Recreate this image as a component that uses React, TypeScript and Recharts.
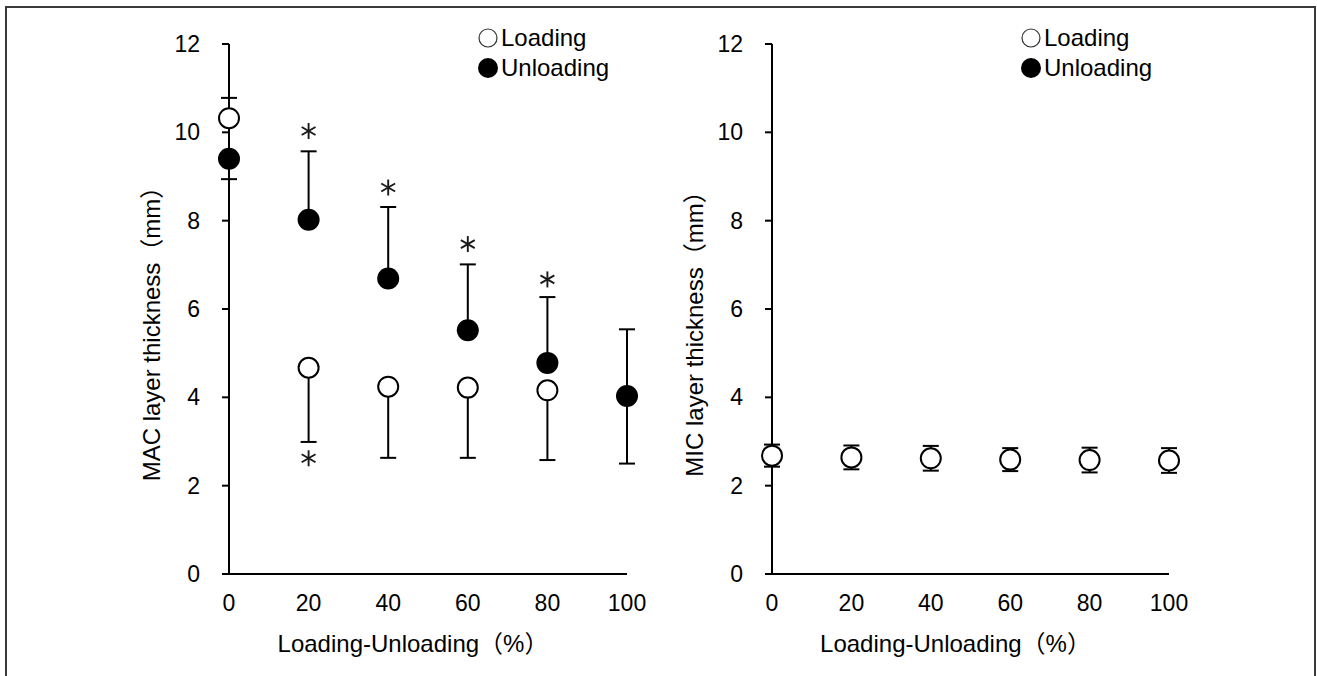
import React from "react";
import { ScatterChart, Scatter, XAxis, YAxis, ErrorBar, Legend } from "recharts";

const xTicks = [0, 20, 40, 60, 80, 100];
const yTicks = [0, 2, 4, 6, 8, 10, 12];
const legendNames = ["Loading", "Unloading"];

// MAC layer (left panel)
const macLoadingX = [0, 20, 40, 60, 80];
const macLoadingY = [10.32, 4.67, 4.24, 4.22, 4.16];
const macLoadingErrDown = [0, 1.68, 1.61, 1.59, 1.58];
const macLoadingErrUp = [0.46, 0, 0, 0, 0];

const macUnloadingX = [0, 20, 40, 60, 80, 100];
const macUnloadingY = [9.4, 8.02, 6.69, 5.52, 4.78, 4.03];
const macUnloadingErrDown = [0.46, 0, 0, 0, 0, 1.53];
const macUnloadingErrUp = [0, 1.55, 1.62, 1.49, 1.49, 1.51];

// significance marks (*)
const sigX = [20, 40, 60, 80, 20];
const sigY = [10.03, 8.75, 7.47, 6.67, 2.62];

// MIC layer (right panel)
const micLoadingX = [0, 20, 40, 60, 80, 100];
const micLoadingY = [2.68, 2.64, 2.62, 2.59, 2.58, 2.57];
const micLoadingErr = [0.25, 0.27, 0.28, 0.26, 0.28, 0.28];

const build = (xs: number[], ys: number[], down: number[], up: number[]) =>
  xs.map((x, i) => ({ x, y: ys[i], err: [down[i], up[i]] }));

const macLoading = build(macLoadingX, macLoadingY, macLoadingErrDown, macLoadingErrUp);
const macUnloading = build(macUnloadingX, macUnloadingY, macUnloadingErrDown, macUnloadingErrUp);
const micLoading = build(micLoadingX, micLoadingY, micLoadingErr, micLoadingErr);
const sigMarks = sigX.map((x, i) => ({ x, y: sigY[i] }));

const OpenDot = (p: any) => (
  <circle cx={p.cx} cy={p.cy} r={10} fill="#fff" stroke="#000" strokeWidth={2} />
);
const FilledDot = (p: any) => <circle cx={p.cx} cy={p.cy} r={11} fill="#000" />;
const Star = (p: any) => {
  const r = 8;
  const lines = [90, 30, 150].map((a) => {
    const dx = Math.cos((a * Math.PI) / 180) * r;
    const dy = Math.sin((a * Math.PI) / 180) * r;
    return (
      <line key={a} x1={p.cx - dx} y1={p.cy - dy} x2={p.cx + dx} y2={p.cy + dy} stroke="#1a1a1a" strokeWidth={1.9} />
    );
  });
  return <g>{lines}</g>;
};

const LegendBox = () => (
  <div style={{ fontSize: 24, color: "#000" }}>
    {legendNames.map((n, i) => (
      <div key={n} style={{ display: "flex", alignItems: "center", height: 30, lineHeight: "30px" }}>
        <svg width={22} height={22} style={{ marginRight: 1 }}>
          {i === 0 ? (
            <circle cx={10} cy={11} r={9} fill="#fff" stroke="#333" strokeWidth={1.2} />
          ) : (
            <circle cx={10} cy={11} r={10} fill="#000" />
          )}
        </svg>
        <span>{n}</span>
      </div>
    ))}
  </div>
);

type PanelProps = {
  left: number;
  width: number;
  marginLeft: number;
  marginRight: number;
  yTitle: string;
  legendLeft: number;
  children: React.ReactNode;
};

const Panel = ({ left, width, marginLeft, marginRight, yTitle, legendLeft, children }: PanelProps) => (
  <div style={{ position: "absolute", left, top: 0 }}>
    <ScatterChart
      width={width}
      height={676}
      margin={{ top: 44, right: marginRight, bottom: 42, left: marginLeft }}
    >
      <XAxis
        type="number"
        dataKey="x"
        domain={[0, 100]}
        ticks={xTicks}
        tickLine={false}
        tickSize={0}
        tickMargin={21}
        height={60}
        axisLine={{ stroke: "#000", strokeWidth: 2 }}
        tick={{ fill: "#000", fontSize: 23 }}
        label={{
          value: "Loading-Unloading（%）",
          content: (p: any) => {
            const vb = p.viewBox || { x: 0, y: 0, width: 0, height: 0 };
            return (
              <text x={vb.x + vb.width / 2 - 15} y={vb.y + 78} textAnchor="middle" fontSize={24} fill="#000">
                Loading-Unloading（%）
              </text>
            );
          },
        }}
      />
      <YAxis
        type="number"
        dataKey="y"
        domain={[0, 12]}
        ticks={yTicks}
        width={80}
        tickSize={7}
        tickMargin={22}
        axisLine={{ stroke: "#000", strokeWidth: 2 }}
        tickLine={{ stroke: "#000", strokeWidth: 2 }}
        tick={{ fill: "#000", fontSize: 23 }}
        label={{
          value: yTitle,
          content: (p: any) => {
            const vb = p.viewBox || { x: 0, y: 0, width: 0, height: 0 };
            const cx = vb.x + 2;
            const cy = vb.y + vb.height / 2 + 19;
            return (
              <text
                x={cx}
                y={cy}
                transform={`rotate(-90 ${cx} ${cy})`}
                textAnchor="middle"
                dominantBaseline="central"
                fontSize={24}
                fill="#000"
              >
                {yTitle}
              </text>
            );
          },
        }}
      />
      <Legend
        layout="vertical"
        align="center"
        verticalAlign="middle"
        content={() => <LegendBox />}
        wrapperStyle={{ left: legendLeft, top: 23, width: 170 }}
      />
      {children}
    </ScatterChart>
  </div>
);

export default function App() {
  return (
    <div
      style={{
        position: "absolute",
        left: 0,
        top: 0,
        width: 1317,
        height: 676,
        background: "#fff",
        overflow: "hidden",
        fontFamily: "'Liberation Sans', Arial, 'Noto Sans CJK JP', sans-serif",
      }}
    >
      <div
        style={{
          position: "absolute",
          left: 5,
          top: 6,
          width: 1307,
          height: 720,
          borderLeft: "2px solid #3a3a3a",
          borderTop: "2px solid #3a3a3a",
          borderRight: "2px solid #3a3a3a",
        }}
      />
      <Panel
        left={0}
        width={660}
        marginLeft={149}
        marginRight={33}
        yTitle="MAC layer thickness（mm）"
        legendLeft={478}
      >
        <Scatter name="Loading" data={macLoading} shape={OpenDot} isAnimationActive={false}>
          <ErrorBar dataKey="err" direction="y" width={8} stroke="#000" strokeWidth={2} />
        </Scatter>
        <Scatter name="Unloading" data={macUnloading} shape={FilledDot} isAnimationActive={false}>
          <ErrorBar dataKey="err" direction="y" width={8} stroke="#000" strokeWidth={2} />
        </Scatter>
        <Scatter name="sig" data={sigMarks} shape={Star} legendType="none" isAnimationActive={false} />
      </Panel>
      <Panel
        left={660}
        width={657}
        marginLeft={32}
        marginRight={148}
        yTitle="MIC layer thickness（mm）"
        legendLeft={361}
      >
        <Scatter name="Loading" data={micLoading} shape={OpenDot} isAnimationActive={false}>
          <ErrorBar dataKey="err" direction="y" width={8} stroke="#000" strokeWidth={2} />
        </Scatter>
      </Panel>
    </div>
  );
}
